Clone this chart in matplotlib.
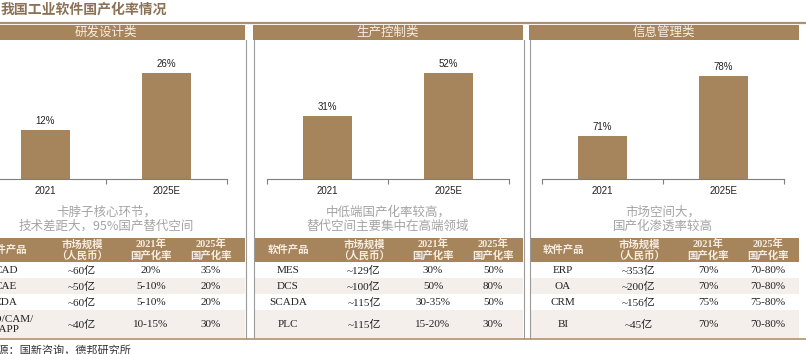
import matplotlib
matplotlib.use('Agg')
import matplotlib.pyplot as plt
from matplotlib.patches import Rectangle

plt.rcParams['font.family'] = ['Liberation Sans', 'Noto Sans CJK SC']

# ---- data ----
title = '我国工业软件国产化率情况'
source = '资料来源：国新咨询，德邦研究所'
groups = ['研发设计类', '生产控制类', '信息管理类']
years = ['2021', '2025E']
rate_rd = [12, 26]
rate_prod = [31, 52]
rate_info = [71, 78]
notes = [['卡脖子核心环节，', '技术差距大，95%国产替代空间'],
         ['中低端国产化率较高，', '替代空间主要集中在高端领域'],
         ['市场空间大，', '国产化渗透率较高']]

table_header = ['软件产品', '市场规模\n（人民币）', '2021年\n国产化率', '2025年\n国产化率']
products_rd = ['CAD', 'CAE', 'EDA', 'CAD/CAM/\nCAPP']
market_rd = ['~60亿', '~50亿', '~60亿', '~40亿']
r2021_rd = ['20%', '5-10%', '5-10%', '10-15%']
r2025_rd = ['35%', '20%', '20%', '30%']
products_prod = ['MES', 'DCS', 'SCADA', 'PLC']
market_prod = ['~129亿', '~100亿', '~115亿', '~115亿']
r2021_prod = ['30%', '50%', '30-35%', '15-20%']
r2025_prod = ['50%', '80%', '50%', '30%']
products_info = ['ERP', 'OA', 'CRM', 'BI']
market_info = ['~353亿', '~200亿', '~156亿', '~45亿']
r2021_info = ['70%', '70%', '75%', '70%']
r2025_info = ['70-80%', '70-80%', '75-80%', '70-80%']

rates = [rate_rd, rate_prod, rate_info]
tables = [[products_rd, market_rd, r2021_rd, r2025_rd],
          [products_prod, market_prod, r2021_prod, r2025_prod],
          [products_info, market_info, r2021_info, r2025_info]]

# ---- layout (pixels) ----
W, H = 806, 354
BROWN = '#A6845C'
LINE = '#B0906C'
BEIGE = '#F4EFEA'
CREAM = '#F6EDE0'
GREY = '#9a9a9a'
SERIF = ['Liberation Serif', 'Noto Sans CJK SC']

panel_left = [-30, 253, 529]
panel_right = [245, 523, 799]
centers = [106, 388, 663]
ylims = [(0, 31.6), (0, 63.3), (66, 81.05)]
col_off = [-100, -24, 45, 105]
row_edges = [262, 278, 294, 310, 338]

fig = plt.figure(figsize=(W / 100, H / 100), dpi=100)
bg = fig.add_axes([0, 0, 1, 1])
bg.set_xlim(0, W)
bg.set_ylim(H, 0)
bg.axis('off')

bg.text(1, 10, title, fontsize=10, fontweight='bold', color='#8B7257',
        family=['Noto Sans CJK SC'], va='center', ha='left')
bg.plot([0, W], [22.5, 22.5], color=LINE, lw=1.6)

for i in range(3):
    l, r, c = panel_left[i], panel_right[i], centers[i]
    # header bar
    bg.add_patch(Rectangle((l, 24.5), r - l, 15.5, color=BROWN, lw=0))
    bg.text((l + r) / 2 if i else c, 32.5, groups[i], fontsize=9, color=CREAM,
            family=['Noto Sans CJK SC'], ha='center', va='center')
    # panel borders
    bg.plot([l + 1, l + 1], [40, 338], color=GREY, lw=0.8)
    if i < 2:
        bg.plot([r + 1, r + 1], [40, 338], color=GREY, lw=0.8)

    # bar chart
    x0, x1 = c - 121, c + 121
    ax = fig.add_axes([x0 / W, 1 - 179 / H, (x1 - x0) / W, (179 - 50) / H])
    ax.patch.set_alpha(0)
    bars = ax.bar([0, 1], rates[i], width=0.4, color=BROWN)
    ax.bar_label(bars, labels=[f'{v}%' for v in rates[i]], padding=3,
                 fontsize=7, color='#222222')
    ax.set_xlim(-0.5, 1.5)
    ax.set_ylim(*ylims[i])
    for s in ['top', 'left', 'right']:
        ax.spines[s].set_visible(False)
    ax.spines['bottom'].set_color('#7f7f7f')
    ax.spines['bottom'].set_linewidth(0.8)
    ax.set_yticks([])
    ax.set_xticks([0, 1])
    ax.set_xticklabels(years, fontsize=7, color='#222222')
    ax.tick_params(axis='x', which='major', length=0, pad=5)
    ax.set_xticks([-0.5, 0.5, 1.5], minor=True)
    ax.tick_params(axis='x', which='minor', length=3.5, color='#7f7f7f', width=0.8)

    # comment text
    bg.text(c, 212, notes[i][0], fontsize=9, color='#a4a4a4',
            family=['Noto Sans CJK SC'], ha='center', va='center')
    bg.text(c, 226, notes[i][1], fontsize=9, color='#a4a4a4',
            family=['Noto Sans CJK SC'], ha='center', va='center')

    # table
    tl, tr = l + 1, r
    bg.add_patch(Rectangle((tl, 237.5), tr - tl, 24.5, color=BROWN, lw=0))
    for k, txt in enumerate(table_header):
        bg.text(c + col_off[k], 250, txt, fontsize=7.5, color=CREAM, family=SERIF,
                fontweight='bold', ha='center', va='center', linespacing=1.15)
    for j in range(4):
        y0, y1 = row_edges[j], row_edges[j + 1]
        if j % 2 == 1:
            bg.add_patch(Rectangle((tl, y0), tr - tl, y1 - y0, color=BEIGE, lw=0))
        for k in range(4):
            bg.text(c + col_off[k], (y0 + y1) / 2 + 0.5, tables[i][k][j], fontsize=8,
                    color='#222222', family=SERIF, ha='center', va='center',
                    linespacing=1.0)

bg.plot([0, W], [338.5, 338.5], color=LINE, lw=1.2)
bg.text(-36, 350, source, fontsize=8, color='#333333',
        family=['Noto Sans CJK SC'], ha='left', va='center')

fig.savefig('out.png', dpi=100)
